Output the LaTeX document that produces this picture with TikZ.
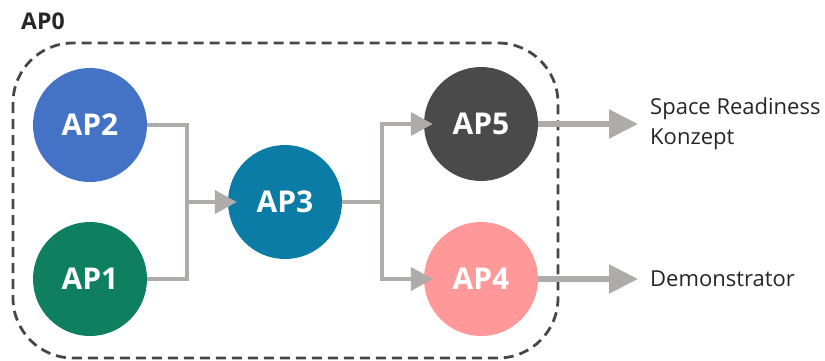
\documentclass[tikz,border=0pt]{standalone}
\usepackage{fontspec}
\setmainfont{Open Sans}
\usepackage{xcolor}
\usepackage{tikz}
\usetikzlibrary{arrows.meta, positioning, calc}
\definecolor{apblue}{RGB}{68, 114, 196}
\definecolor{apgreen}{RGB}{14, 128, 96}
\definecolor{apteal}{RGB}{10, 124, 166}
\definecolor{apdark}{RGB}{74, 74, 74}
\definecolor{appink}{RGB}{255, 153, 153}
\definecolor{linegray}{RGB}{175, 171, 171}
\definecolor{framegray}{RGB}{71, 71, 71}
\tikzstyle{package} = [
    circle,
    minimum size=114pt,
    inner sep=0pt,
    text=white,
    font=\fontsize{30}{34}\selectfont\bfseries
]
\tikzstyle{result} = [
    anchor=west,
    align=left,
    inner sep=0pt,
    text=black!85,
    font=\fontsize{22}{30}\selectfont
]
\tikzstyle{link} = [
    line width=4pt,
    color=linegray
]
\tikzstyle{arrow} = [
    link,
    -{Triangle[length=22pt, width=23pt]},
    shorten >=-9pt
]
\tikzstyle{outarrow} = [
    line width=5.5pt,
    color=linegray,
    -{Triangle[length=29pt, width=28pt]}
]

\begin{document}
\begin{tikzpicture}[x=1pt, y=-1pt]
        \useasboundingbox (0,0) rectangle (825,360);

        % Work package frame
        \draw[framegray, line width=2.8pt, dash pattern=on 10pt off 6pt, rounded corners=60pt] (13,43) rectangle (558,358);
        \node[anchor=west, inner sep=0pt, text=black!85, font=\fontsize{23}{26}\selectfont\bfseries] (ap0) at (21,21) {AP0};

        % Work packages
        \node[package, fill=apblue] (ap2) at (90,125) {AP2};
        \node[package, fill=apgreen] (ap1) at (90,279) {AP1};
        \node[package, fill=apteal] (ap3) at (285,202) {AP3};
        \node[package, fill=apdark] (ap5) at (481,124) {AP5};
        \node[package, fill=appink] (ap4) at (481,279) {AP4};

        % Junctions
        \coordinate (j1) at (187,202);
        \coordinate (j2) at (382,202);

        % Results
        \node[result] (srk) at (650,124) {Space Readiness\\Konzept};
        \node[result] (demo) at (650,279) {Demonstrator};

        % Arrows into AP3
        \draw[link] (ap2.east) -| (j1);
        \draw[link] (ap1.east) -| (j1);
        \draw[arrow] (j1) -- (ap3);

        % Arrows out of AP3
        \draw[link] (ap3.east) -- (j2);
        \draw[arrow] (j2) |- (ap5);
        \draw[arrow] (j2) |- (ap4);

        % Arrows to results
        \draw[outarrow] (ap5) -- ([xshift=-12pt]srk.west |- ap5);
        \draw[outarrow] (ap4) -- ([xshift=-12pt]demo.west);
    \end{tikzpicture}
\end{document}
